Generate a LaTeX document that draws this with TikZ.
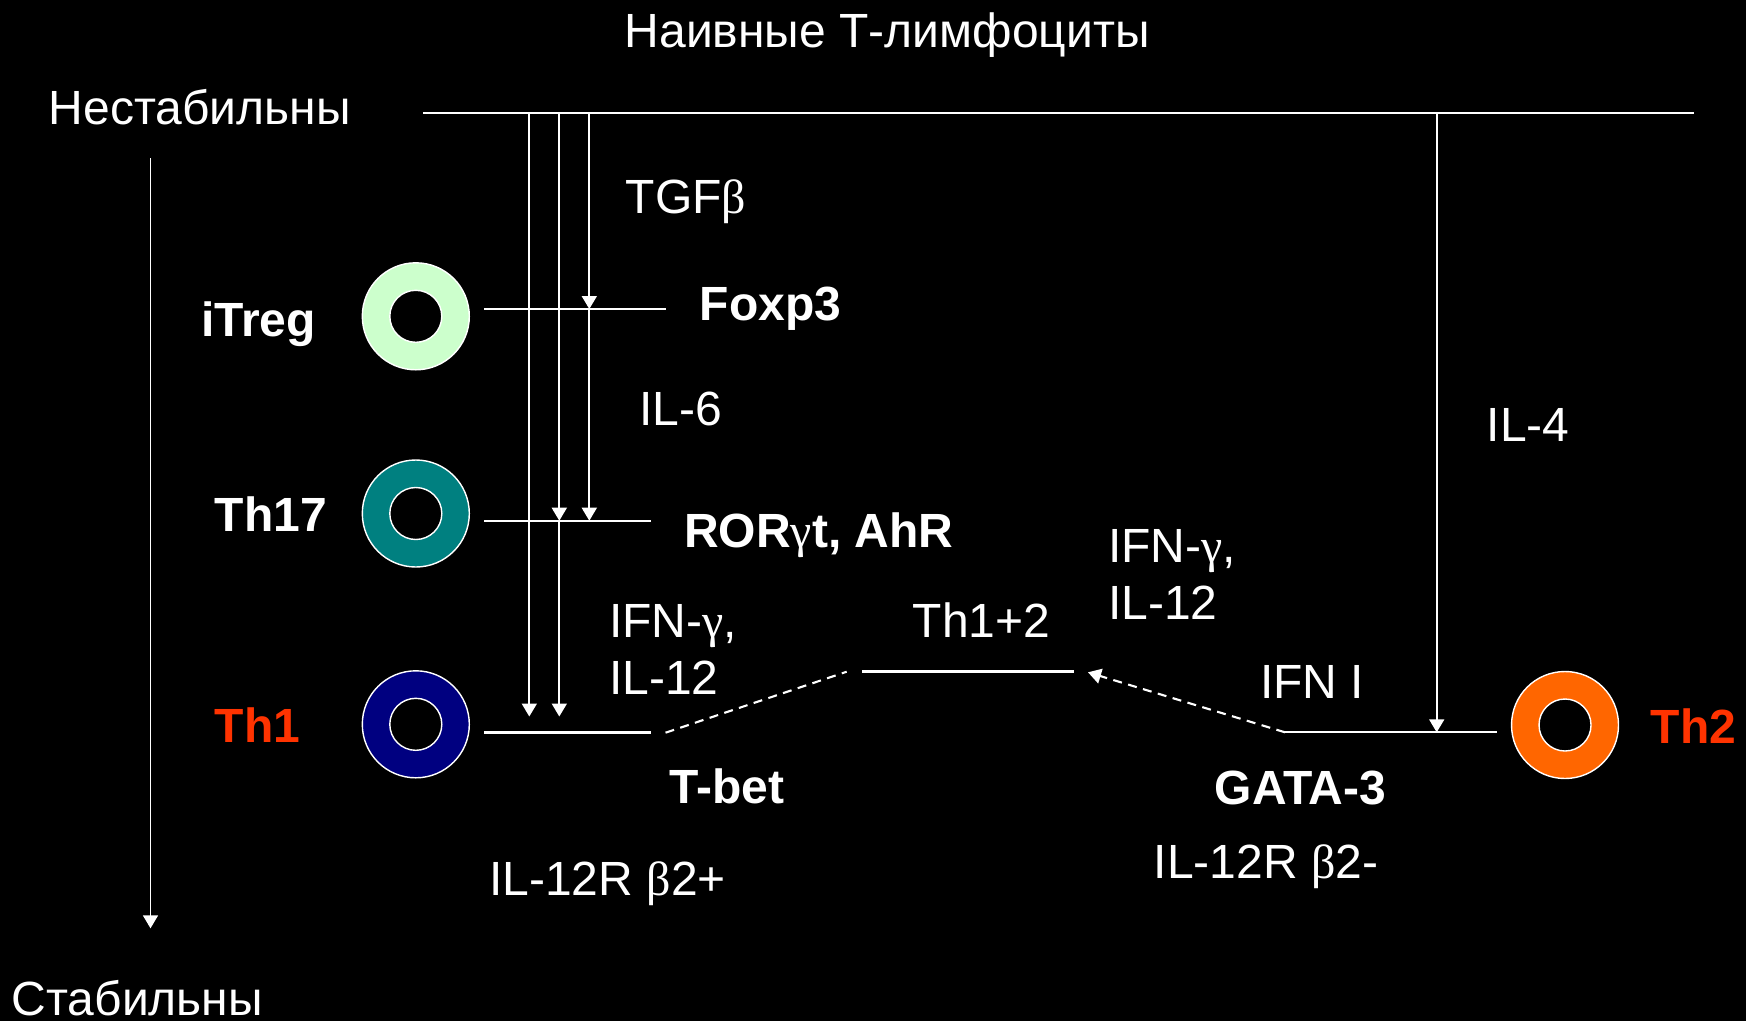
\documentclass[tikz,border=0pt]{standalone}
\usepackage{fontspec}
\setmainfont{Liberation Sans}
\newfontfamily\grk{Liberation Serif}
\usetikzlibrary{arrows.meta}
\definecolor{tregc}{RGB}{204,255,204}
\definecolor{th17c}{RGB}{0,128,128}
\definecolor{th1c}{RGB}{0,0,128}
\definecolor{th2c}{RGB}{255,102,0}
\definecolor{redlbl}{RGB}{255,51,0}
\begin{document}
\begin{tikzpicture}[x=0.1mm,y=-0.1mm,
  lbl/.style={text=white,font=\fontsize{13.66}{16}\selectfont,inner sep=0pt,anchor=base west},
  blbl/.style={lbl,font=\fontsize{13.66}{16}\selectfont\bfseries},
  rlbl/.style={blbl,text=redlbl},
  thinln/.style={draw=white,line width=0.5pt},
  thickln/.style={draw=white,line width=0.8pt},
  dashln/.style={draw=white,line width=0.6pt,dash pattern=on 0.9mm off 0.65mm},
  arr/.style={-{Triangle[length=1.3mm,width=1.5mm]}},
  ringout/.style={circle,draw=white,line width=0.4pt,minimum size=10.7mm,inner sep=0pt},
  ringin/.style={circle,fill=black,draw=white,line width=0.4pt,minimum size=5.2mm,inner sep=0pt}]
\fill[black] (0,0) rectangle (1746,1021);
\useasboundingbox (0,0) rectangle (1746,1021);

% texts
\node[lbl] (title) at (624,47.7) {Наивные Т-лимфоциты};
\node[lbl] (unstab) at (48,124.5) {Нестабильны};
\node[lbl] (stab) at (11,1015) {Стабильны};
\node[lbl] (tgf) at (625,213.3) {TGF{\grk β}};
\node[lbl] (il6) at (638.5,425.5) {IL-6};
\node[lbl] (il4) at (1486,441) {IL-4};
\node[lbl] (ifnLa) at (608.5,637.7) {IFN-{\grk γ},};
\node[lbl] (ifnLb) at (608.5,694.3) {IL-12};
\node[lbl] (ifnRa) at (1107.5,562.3) {IFN-{\grk γ},};
\node[lbl] (ifnRb) at (1107.5,619) {IL-12};
\node[lbl] (th12) at (912,637.7) {Th1+2};
\node[lbl] (ifni) at (1259.5,698.3) {IFN I};
\node[lbl] (rplus) at (488.5,895) {IL-12R {\grk β}2+};
\node[lbl] (rminus) at (1153,878) {IL-12R {\grk β}2-};

\node[blbl] (itregl) at (200.5,336) {iTreg};
\node[blbl] (th17l) at (214,531.7) {Th17};
\node[rlbl] (th1l) at (214,742.7) {Th1};
\node[rlbl] (th2l) at (1650,743) {Th2};
\node[blbl] (foxp3) at (699,320) {Foxp3};
\node[blbl] (ror) at (683.5,547.7) {ROR{\grk\mdseries γ}t, AhR};
\node[blbl] (tbet) at (669,803.3) {T-bet};
\node[blbl] (gata) at (1214,804) {GATA-3};

% cells
\node[ringout,fill=tregc] (itreg) at (415.8,316.3) {};
\node[ringin] (itregin) at (itreg.center) {};
\node[ringout,fill=th17c] (th17) at (415.8,513.5) {};
\node[ringin] (th17in) at (th17.center) {};
\node[ringout,fill=th1c] (th1) at (415.8,724.3) {};
\node[ringin] (th1in) at (th1.center) {};
\node[ringout,fill=th2c] (th2) at (1565,725) {};
\node[ringin] (th2in) at (th2.center) {};

% coordinates
\coordinate (topL) at (423.3,112.7);
\coordinate (topR) at (1693.7,112.7);
\coordinate (x1top) at (529.3,112.7);
\coordinate (x2top) at (559.3,112.7);
\coordinate (x3top) at (589.3,112.7);
\coordinate (x4top) at (1436.7,112.7);
\coordinate (x3fox) at (589.3,309);
\coordinate (x2r) at (559.3,520.7);
\coordinate (x3r) at (589.3,520.7);
\coordinate (x1t) at (529.3,716.5);
\coordinate (x2t) at (559.3,716.5);
\coordinate (foxL) at (484,309);
\coordinate (foxR) at (666,309);
\coordinate (rorL) at (484,520.7);
\coordinate (rorR) at (651,520.7);
\coordinate (tbL) at (484,732.7);
\coordinate (tbR) at (650.7,732.7);
\coordinate (dA) at (665.5,732.7);
\coordinate (dB) at (846.7,671.7);
\coordinate (mL) at (862.3,671.7);
\coordinate (mR) at (1073.5,671.7);
\coordinate (gL) at (1285,732.3);
\coordinate (gR) at (1497.3,732.3);
\coordinate (x4g) at (1436.7,732.3);
\coordinate (dTip) at (1088,672.3);
\coordinate (axTop) at (150.5,158.3);
\coordinate (axBot) at (150.5,928.3);

% lines
\draw[thinln] (topL) -- (topR);
\draw[thinln] (foxL) -- (foxR);
\draw[thinln] (rorL) -- (rorR);
\draw[thickln] (tbL) -- (tbR);
\draw[thickln] (mL) -- (mR);
\draw[thinln] (gL) -- (gR);
\draw[dashln] (dA) -- (dB);
\draw[dashln,arr] (gL) -- (dTip);

\draw[thinln,arr] (x1top) -- (x1t);
\draw[thinln,arr] (x2top) -- (x2r);
\draw[thinln,arr] (x2r) -- (x2t);
\draw[thinln,arr] (x3top) -- (x3fox);
\draw[thinln,arr] (x3fox) -- (x3r);
\draw[thinln,arr] (x4top) -- (x4g);
\draw[thinln,arr] (axTop) -- (axBot);
\end{tikzpicture}
\end{document}
